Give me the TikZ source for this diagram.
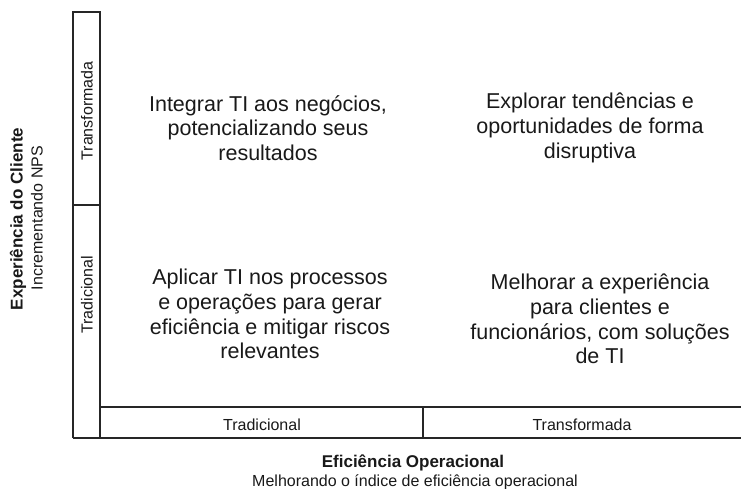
\documentclass[tikz,border=0pt]{standalone}
\usepackage{fontspec}
\setmainfont{Liberation Sans}
\begin{document}
\begin{tikzpicture}[x=1pt,y=-1pt,
  frame/.style={draw=black!85,line width=1.4pt},
  celltext/.style={align=center,font=\fontsize{21.5}{24.8}\selectfont,text=black!90,inner sep=0pt},
  axislab/.style={font=\fontsize{16}{18}\selectfont,text=black!90,inner sep=0pt},
  title/.style={font=\fontsize{17}{19}\selectfont\bfseries,text=black!90,inner sep=0pt},
  subtitle/.style={font=\fontsize{16}{18}\selectfont,text=black!90,inner sep=0pt}]
\useasboundingbox (0,0) rectangle (741,488);
% frame coordinates
\coordinate (cTL) at (73,12);
\coordinate (cTR) at (100,12);
\coordinate (cMid) at (73,205);
\coordinate (cMidR) at (100,205);
\coordinate (cBL) at (73,438);
\coordinate (rTL) at (100,407);
\coordinate (rTR) at (741,407);
\coordinate (rBR) at (741,438);
\coordinate (dT) at (423,407);
\coordinate (dB) at (423,438);
\draw[frame] (cBL) -- (cTL) -- (cTR) -- (100,438);
\draw[frame] (cMid) -- (cMidR);
\draw[frame] (rTL) -- (rTR);
\draw[frame] (cBL) -- (rBR);
\draw[frame] (dT) -- (dB);
% column labels
\node[axislab,rotate=90] (ytr) at (87,111) {Transformada};
\node[axislab,rotate=90] (ytd) at (87,295) {Tradicional};
\node[axislab,anchor=base] (xtd) at (262,430) {Tradicional};
\node[axislab,anchor=base] (xtr) at (582,430) {Transformada};
% titles
\node[title,rotate=90] (ytitle) at (18,219) {Experiência do Cliente};
\node[subtitle,rotate=90] (ysub) at (37,218) {Incrementando NPS};
\node[title,anchor=base] (xtitle) at (413,467) {Eficiência Operacional};
\node[subtitle,anchor=base] (xsub) at (415,486) {Melhorando o índice de eficiência operacional};
% cells
\node[celltext] (q1) at (268,128) {Integrar TI aos negócios,\\potencializando seus\\resultados};
\node[celltext] (q2) at (590,128) {Explorar tendências e\\oportunidades de forma\\disruptiva};
\node[celltext] (q3) at (270,314) {Aplicar TI nos processos\\e operações para gerar\\eficiência e mitigar riscos\\relevantes};
\node[celltext] (q4) at (600,319) {Melhorar a experiência\\para clientes e\\funcionários, com soluções\\de TI};
\end{tikzpicture}
\end{document}
